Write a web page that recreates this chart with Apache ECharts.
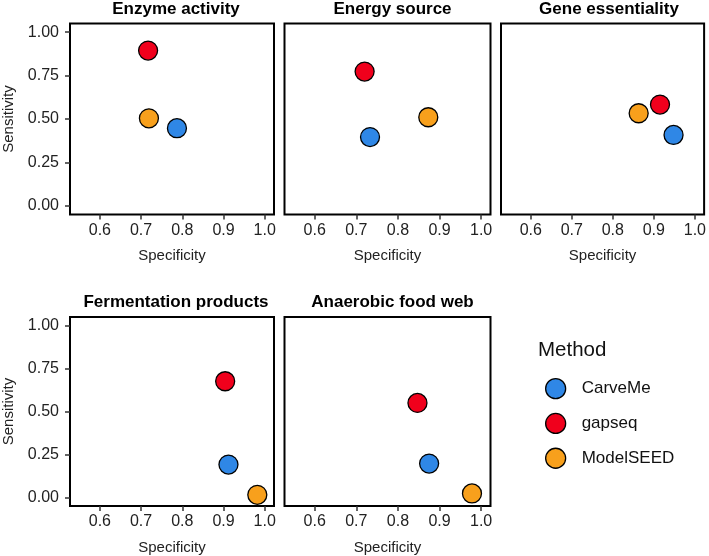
<!DOCTYPE html>
<html><head><meta charset="utf-8">
<script src="https://cdn.jsdelivr.net/npm/echarts@6/dist/echarts.min.js"></script>
<style>html,body{margin:0;padding:0;background:#fff}#c{width:709px;height:556px}</style>
</head><body><div id="c"></div>
<script>
const panels = ["Enzyme activity","Energy source","Gene essentiality","Fermentation products","Anaerobic food web"];
const methods = ["CarveMe","gapseq","ModelSEED"];
const colors = ["#2F87E6","#F0001C","#F8A01C"];
// specificity (x) per panel, order: CarveMe, gapseq, ModelSEED
const specCarveMe   = [0.787, 0.733, 0.948, 0.912, 0.875];
const specGapseq    = [0.717, 0.720, 0.915, 0.904, 0.847];
const specModelSEED = [0.719, 0.873, 0.863, 0.982, 0.978];
// sensitivity (y)
const sensCarveMe   = [0.447, 0.396, 0.408, 0.191, 0.197];
const sensGapseq    = [0.894, 0.773, 0.583, 0.676, 0.550];
const sensModelSEED = [0.504, 0.510, 0.533, 0.015, 0.023];
const xTicks = [0.6, 0.7, 0.8, 0.9, 1.0];
const yTicks = [0.00, 0.25, 0.50, 0.75, 1.00];

const specs = [specCarveMe, specGapseq, specModelSEED];
const sens = [sensCarveMe, sensGapseq, sensModelSEED];

const layout = [
  {left:68, top:23.5}, {left:284.5, top:23.5}, {left:501, top:23.5},
  {left:68, top:317}, {left:284.5, top:317}
];
const W = 206, H = 191;
const font = "Liberation Sans, Arial, Helvetica, sans-serif";

const grids = [], xAxes = [], yAxes = [], series = [], titles = [];
panels.forEach((p, i) => {
  const L = layout[i];
  grids.push({left:L.left, top:L.top, width:W, height:H, show:true, borderColor:'#000', borderWidth:2, backgroundColor:'#fff', containLabel:false});
  titles.push({text:p, left:L.left + W/2, top:L.top - 28, textAlign:'center',
    textStyle:{fontFamily:font, fontSize:17, fontWeight:'bold', color:'#000'}});
  xAxes.push({gridIndex:i, type:'value', min:0.5275, max:1.0225,
    name:'Specificity', nameLocation:'middle', nameGap:34,
    nameTextStyle:{fontFamily:font, fontSize:15, color:'#222'},
    axisLine:{show:false, onZero:false}, splitLine:{show:false},
    axisTick:{show:true, length:5, lineStyle:{color:'#333', width:1.5}, customValues:xTicks},
    axisLabel:{show:true, margin:8, fontFamily:font, fontSize:16, color:'#222', customValues:xTicks,
      formatter:v=>v.toFixed(1)}});
  const showY = (i === 0 || i === 3);
  yAxes.push({gridIndex:i, type:'value', min:-0.05, max:1.05,
    name: showY ? 'Sensitivity' : '', nameLocation:'middle', nameGap:54, nameRotate:90,
    nameTextStyle:{fontFamily:font, fontSize:15, color:'#222'},
    axisLine:{show:false, onZero:false}, splitLine:{show:false},
    axisTick:{show:showY, length:5, lineStyle:{color:'#333', width:1.5}, customValues:yTicks},
    axisLabel:{show:showY, margin:11, fontFamily:font, fontSize:16, color:'#222', customValues:yTicks,
      formatter:v=>v.toFixed(2)}});
  methods.forEach((m, k) => {
    series.push({name:m, type:'scatter', xAxisIndex:i, yAxisIndex:i,
      symbol:'circle', symbolSize:19,
      itemStyle:{color:colors[k], borderColor:'#000', borderWidth:1.3, opacity:1},
      data:[[specs[k][i], sens[k][i]]]});
  });
});
titles.push({text:'Method', left:533, top:335, textStyle:{fontFamily:font, fontSize:20.5, fontWeight:'normal', color:'#111'}});

const chart = echarts.init(document.getElementById('c'), null, {renderer:'canvas'});
chart.setOption({
  animation:false,
  backgroundColor:'#fff',
  title: titles,
  grid: grids, xAxis: xAxes, yAxis: yAxes, series: series,
  legend:{orient:'vertical', left:540, top:373, itemWidth:20, itemHeight:20, itemGap:13.5,
    icon:'circle', data:methods,
    itemStyle:{borderColor:'#000', borderWidth:1.3},
    textStyle:{fontFamily:font, fontSize:17, lineHeight:20, color:'#111', padding:[0,0,0,11]}}
});
</script></body></html>
